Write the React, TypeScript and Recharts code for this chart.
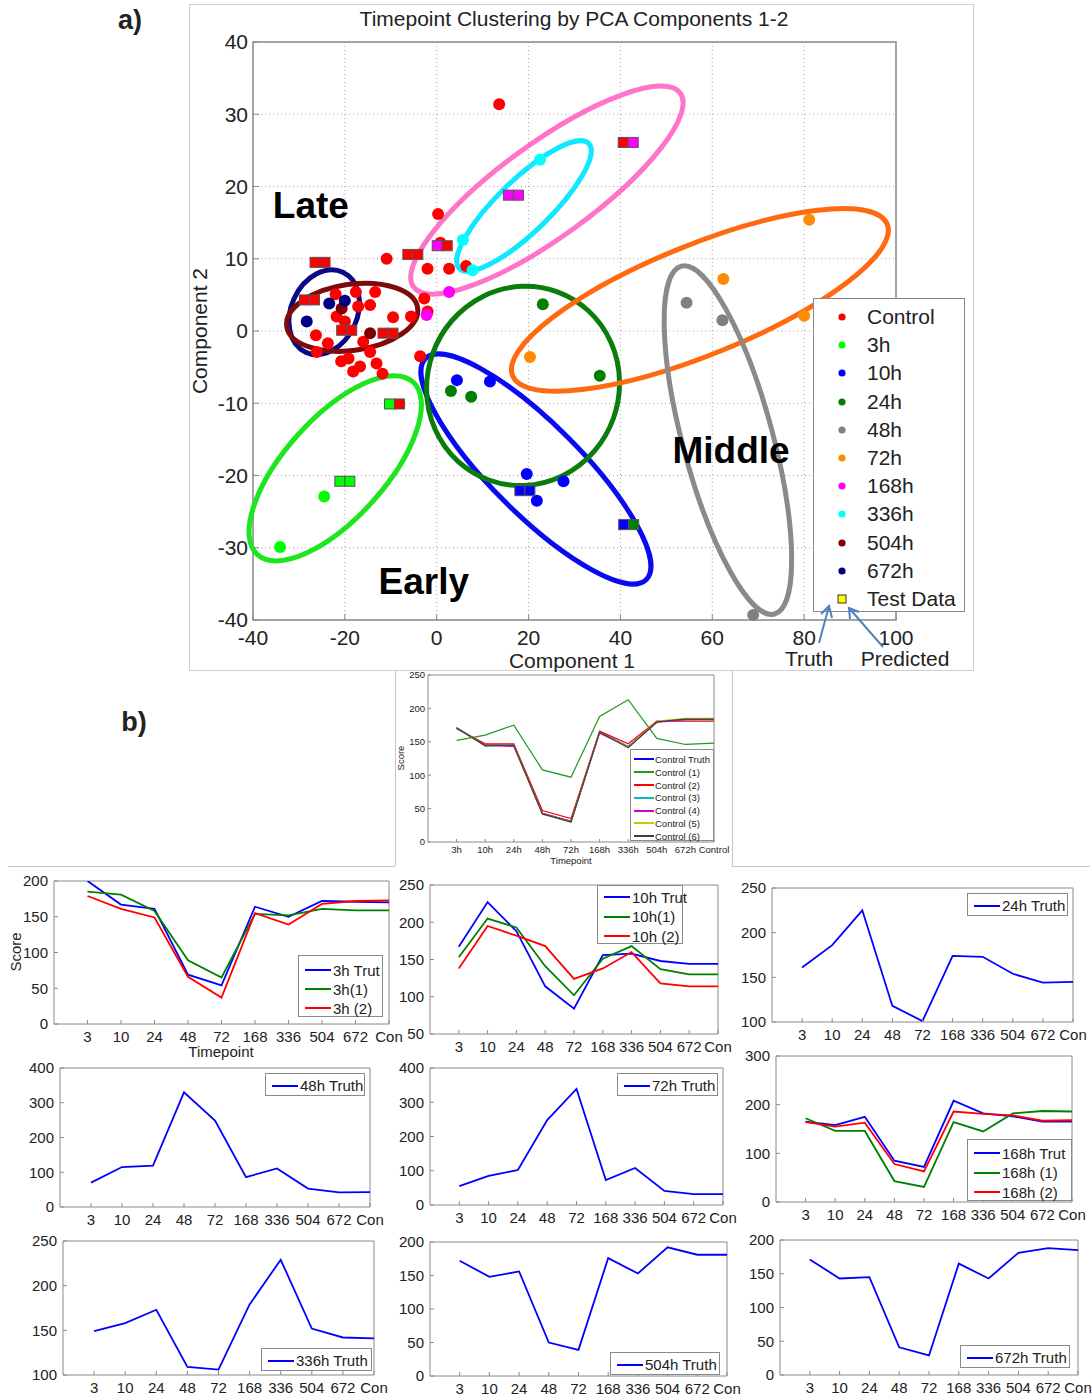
import React from 'react';
import {
  ScatterChart,
  Scatter,
  LineChart,
  Line,
  XAxis,
  YAxis,
  CartesianGrid,
  ReferenceArea,
  ReferenceDot,
  Legend,
} from 'recharts';

const FONT = '"Liberation Sans", Arial, Helvetica, sans-serif';
const INK = '#222222';
const FRAME = '#8a8a8a';

// ---------------- a) PCA scatter data ----------------
const groupNames = ['Control', '3h', '10h', '24h', '48h', '72h', '168h', '336h', '504h', '672h'];
const groupColors = ['#ff0000', '#00ff00', '#0000ff', '#008000', '#808080', '#ff8c00', '#ff00ff', '#00ffff', '#800000', '#000080'];

const controlPts = [
  { x: 13.6, y: 31.4 }, { x: 0.3, y: 16.2 }, { x: -10.9, y: 10.0 }, { x: -2.0, y: 8.6 },
  { x: 2.7, y: 8.6 }, { x: 6.4, y: 9.0 }, { x: -22.0, y: 5.1 }, { x: -17.6, y: 5.4 },
  { x: -13.4, y: 5.4 }, { x: -14.5, y: 3.6 }, { x: -17.1, y: 3.4 }, { x: -21.8, y: 2.0 },
  { x: -20.0, y: 1.3 }, { x: -9.5, y: 1.9 }, { x: -5.6, y: 2.0 }, { x: -2.7, y: 4.5 },
  { x: -2.0, y: 2.7 }, { x: -26.3, y: -0.6 }, { x: -23.7, y: -1.7 }, { x: -26.1, y: -2.9 },
  { x: -20.8, y: -4.2 }, { x: -19.2, y: -3.8 }, { x: -18.2, y: -5.6 }, { x: -16.7, y: -4.9 },
  { x: -16.0, y: -1.5 }, { x: -14.5, y: -2.9 }, { x: -13.1, y: -4.5 }, { x: -11.8, y: -5.9 },
  { x: -3.6, y: -3.5 }, { x: 0.8, y: 12.2 },
];
const h3Pts = [{ x: -24.5, y: -22.9 }, { x: -34.1, y: -29.9 }];
const h10Pts = [{ x: 4.4, y: -6.8 }, { x: 11.6, y: -7.0 }, { x: 19.6, y: -19.8 }, { x: 21.8, y: -23.5 }, { x: 27.6, y: -20.8 }];
const h24Pts = [{ x: 3.1, y: -8.3 }, { x: 7.5, y: -9.1 }, { x: 23.1, y: 3.7 }, { x: 35.5, y: -6.2 }];
const h48Pts = [{ x: 54.4, y: 3.9 }, { x: 62.2, y: 1.5 }, { x: 68.9, y: -39.3 }];
const h72Pts = [{ x: 81.1, y: 15.4 }, { x: 62.4, y: 7.2 }, { x: 80.0, y: 2.1 }, { x: 20.3, y: -3.6 }];
const h168Pts = [{ x: 2.7, y: 5.4 }, { x: -2.2, y: 2.2 }];
const h336Pts = [{ x: 22.5, y: 23.7 }, { x: 5.7, y: 12.6 }, { x: 7.8, y: 8.4 }];
const h504Pts = [{ x: -20.7, y: 3.1 }, { x: -14.5, y: -0.3 }];
const h672Pts = [{ x: -28.3, y: 1.3 }, { x: -23.4, y: 3.8 }, { x: -20.0, y: 4.2 }];
const groupPts = [controlPts, h3Pts, h10Pts, h24Pts, h48Pts, h72Pts, h168Pts, h336Pts, h504Pts, h672Pts];

// test samples: truth class (left square) and predicted class (right square)
const testX = [-25.4, -27.7, -5.2, 1.2, 16.7, 41.7, -19.6, -10.6, -9.2, -20.0, 19.2, 41.8];
const testY = [9.5, 4.3, 10.6, 11.8, 18.8, 26.1, 0.1, -0.3, -10.1, -20.8, -22.1, -26.8];
const testTruth = ['Control', 'Control', 'Control', '168h', '168h', 'Control', 'Control', 'Control', '3h', '3h', '10h', '10h'];
const testPred = ['Control', 'Control', 'Control', 'Control', '168h', '168h', 'Control', 'Control', 'Control', '3h', '10h', '24h'];

// cluster ellipses: centre in data units, semi-axes in x-axis units, angle in degrees
const ellipses = [
  { cx: 24.0, cy: 19.5, a: 35.9, b: 10.2, angle: 36, color: '#ff73c8' },
  { cx: 19.0, cy: 17.3, a: 19.6, b: 5.7, angle: 44, color: '#10e8ff' },
  { cx: 21.6, cy: -19.1, a: 34.0, b: 9.8, angle: -45, color: '#0a0af0' },
  { cx: 18.8, cy: -7.6, a: 21.8, b: 20.9, angle: 70, color: '#0b7d0b' },
  { cx: 57.3, cy: 4.3, a: 44.0, b: 12.0, angle: 22, color: '#ff6a10' },
  { cx: 63.4, cy: -15.1, a: 39.2, b: 9.8, angle: -75, color: '#8a8a8a' },
  { cx: -22.1, cy: -19.0, a: 25.3, b: 10.9, angle: 48, color: '#1ee61e' },
  { cx: -24.5, cy: 2.6, a: 9.6, b: 7.2, angle: 65, color: '#0a0a88' },
  { cx: -18.4, cy: 1.9, a: 14.4, b: 7.2, angle: 8, color: '#800a0a' },
];

const labelsA = [
  { x: -27.4, y: 17.4, text: 'Late' },
  { x: -2.8, y: -34.7, text: 'Early' },
  { x: 64.1, y: -16.5, text: 'Middle' },
];

const xTicksA = [-40, -20, 0, 20, 40, 60, 80, 100];
const yTicksA = [-40, -30, -20, -10, 0, 10, 20, 30, 40];

// ---------------- b) timepoint profiles ----------------
const hourTicks = ['3', '10', '24', '48', '72', '168', '336', '504', '672', 'Con'];
const controlTicks = ['3h', '10h', '24h', '48h', '72h', '168h', '336h', '504h', '672h', 'Control'];

const controlTruth = [171, 145, 145, 43, 31, 165, 143, 180, 184, 184];
const control1 = [152, 160, 175, 108, 97, 188, 213, 155, 146, 148];
const control2 = [170, 147, 147, 47, 35, 166, 147, 181, 181, 181];
const control3 = [171, 144, 145, 42, 30, 164, 142, 180, 183, 183];
const control4 = [170, 145, 143, 43, 31, 163, 142, 179, 183, 184];
const control5 = [171, 144, 145, 42, 30, 165, 142, 181, 185, 185];
const control6 = [171, 144, 145, 42, 30, 165, 141, 180, 184, 184];

const truth3h = [200, 167, 161, 69, 54, 164, 150, 172, 171, 170];
const pred3h1 = [185, 181, 158, 89, 65, 154, 152, 161, 159, 159];
const pred3h2 = [179, 161, 149, 66, 37, 155, 139, 168, 172, 173];

const truth10h = [167, 227, 188, 114, 84, 156, 158, 148, 144, 144];
const pred10h1 = [153, 205, 193, 141, 102, 151, 168, 137, 130, 130];
const pred10h2 = [138, 195, 182, 168, 124, 138, 160, 118, 114, 114];

const truth24h = [161, 186, 225, 118, 101, 174, 173, 154, 144, 145];
const truth48h = [70, 115, 119, 330, 249, 86, 111, 53, 42, 43];
const truth72h = [55, 85, 102, 248, 339, 73, 108, 41, 32, 32];

const truth168h = [165, 158, 175, 85, 72, 208, 182, 176, 165, 165];
const pred168h1 = [172, 146, 146, 43, 31, 164, 145, 182, 187, 186];
const pred168h2 = [164, 155, 163, 78, 63, 186, 181, 178, 167, 168];

const truth336h = [149, 158, 173, 109, 106, 179, 229, 152, 142, 141];
const truth504h = [172, 148, 156, 50, 39, 176, 153, 192, 181, 181];
const truth672h = [171, 143, 145, 41, 29, 165, 143, 181, 188, 185];

type SeriesSpec = { name: string; color: string; values: number[] };
type LegendSpec = { x: number; y: number; w: number; h: number; first: number; rowH: number; lineW: number };
type SmallSpec = {
  l: number; r: number; t: number; b: number;
  yDomain: [number, number]; yTicks: number[]; xLabels: string[];
  series: SeriesSpec[]; legend: LegendSpec;
  font: number; tick: number; yMargin: number; xMargin: number; lw: number;
};

const big = { font: 15, tick: 4, yMargin: 10, xMargin: 11, lw: 1.8 };

const specs: SmallSpec[] = [
  {
    l: 428, r: 714, t: 675, b: 842, yDomain: [0, 250], yTicks: [0, 50, 100, 150, 200, 250], xLabels: controlTicks,
    series: [
      { name: 'Control Truth', color: '#0000ff', values: controlTruth },
      { name: 'Control (1)', color: '#1f9a1f', values: control1 },
      { name: 'Control (2)', color: '#ff0000', values: control2 },
      { name: 'Control (3)', color: '#00bfbf', values: control3 },
      { name: 'Control (4)', color: '#d000d0', values: control4 },
      { name: 'Control (5)', color: '#c8c800', values: control5 },
      { name: 'Control (6)', color: '#404040', values: control6 },
    ],
    legend: { x: 630, y: 749, w: 84, h: 92, first: 9.5, rowH: 12.8, lineW: 20 },
    font: 9.5, tick: 3, yMargin: 6, xMargin: 7, lw: 1.2,
  },
  {
    l: 54, r: 389, t: 881, b: 1024, yDomain: [0, 200], yTicks: [0, 50, 100, 150, 200], xLabels: hourTicks,
    series: [
      { name: '3h Trut', color: '#0000ff', values: truth3h },
      { name: '3h(1)', color: '#008000', values: pred3h1 },
      { name: '3h (2)', color: '#ff0000', values: pred3h2 },
    ],
    legend: { x: 298, y: 955, w: 85, h: 62, first: 14, rowH: 19, lineW: 26 }, ...big,
  },
  {
    l: 430, r: 718, t: 885, b: 1034, yDomain: [50, 250], yTicks: [50, 100, 150, 200, 250], xLabels: hourTicks,
    series: [
      { name: '10h Trut', color: '#0000ff', values: truth10h },
      { name: '10h(1)', color: '#008000', values: pred10h1 },
      { name: '10h (2)', color: '#ff0000', values: pred10h2 },
    ],
    legend: { x: 597, y: 885, w: 86, h: 59, first: 11, rowH: 19.5, lineW: 26 }, ...big,
  },
  {
    l: 772, r: 1073, t: 888, b: 1022, yDomain: [100, 250], yTicks: [100, 150, 200, 250], xLabels: hourTicks,
    series: [{ name: '24h Truth', color: '#0000ff', values: truth24h }],
    legend: { x: 967, y: 893, w: 101, h: 23, first: 11.5, rowH: 19, lineW: 26 }, ...big,
  },
  {
    l: 60, r: 370, t: 1068, b: 1207, yDomain: [0, 400], yTicks: [0, 100, 200, 300, 400], xLabels: hourTicks,
    series: [{ name: '48h Truth', color: '#0000ff', values: truth48h }],
    legend: { x: 265, y: 1073, w: 100, h: 23, first: 11.5, rowH: 19, lineW: 26 }, ...big,
  },
  {
    l: 430, r: 723, t: 1068, b: 1205, yDomain: [0, 400], yTicks: [0, 100, 200, 300, 400], xLabels: hourTicks,
    series: [{ name: '72h Truth', color: '#0000ff', values: truth72h }],
    legend: { x: 617, y: 1073, w: 101, h: 23, first: 11.5, rowH: 19, lineW: 26 }, ...big,
  },
  {
    l: 776, r: 1072, t: 1056, b: 1202, yDomain: [0, 300], yTicks: [0, 100, 200, 300], xLabels: hourTicks,
    series: [
      { name: '168h Trut', color: '#0000ff', values: truth168h },
      { name: '168h (1)', color: '#008000', values: pred168h1 },
      { name: '168h (2)', color: '#ff0000', values: pred168h2 },
    ],
    legend: { x: 967, y: 1139, w: 105, h: 62, first: 13, rowH: 19.5, lineW: 26 }, ...big,
  },
  {
    l: 63, r: 374, t: 1241, b: 1375, yDomain: [100, 250], yTicks: [100, 150, 200, 250], xLabels: hourTicks,
    series: [{ name: '336h Truth', color: '#0000ff', values: truth336h }],
    legend: { x: 261, y: 1348, w: 111, h: 23, first: 11.5, rowH: 19, lineW: 26 }, ...big,
  },
  {
    l: 430, r: 727, t: 1242, b: 1376, yDomain: [0, 200], yTicks: [0, 50, 100, 150, 200], xLabels: hourTicks,
    series: [{ name: '504h Truth', color: '#0000ff', values: truth504h }],
    legend: { x: 610, y: 1352, w: 110, h: 23, first: 11.5, rowH: 19, lineW: 26 }, ...big,
  },
  {
    l: 780, r: 1078, t: 1240, b: 1375, yDomain: [0, 200], yTicks: [0, 50, 100, 150, 200], xLabels: hourTicks,
    series: [{ name: '672h Truth', color: '#0000ff', values: truth672h }],
    legend: { x: 960, y: 1345, w: 110, h: 23, first: 11.5, rowH: 19, lineW: 26 }, ...big,
  },
];

const colorOf = (name: string) => groupColors[groupNames.indexOf(name)];

const Txt = ({ x, y, size, bold, rotate, color, children }: any) => (
  <div
    style={{
      position: 'absolute', left: x, top: y,
      transform: `translate(-50%, -50%)${rotate ? ` rotate(${rotate}deg)` : ''}`,
      fontSize: size, fontWeight: bold ? 700 : 400, whiteSpace: 'nowrap',
      fontFamily: FONT, color: color || INK, lineHeight: 1,
    }}
  >
    {children}
  </div>
);

const ellipseShape = (e: any) => (p: any) => {
  const kx = Math.abs(p.width) / 2;
  const cx = p.x + p.width / 2;
  const cy = p.y + p.height / 2;
  return (
    <ellipse
      cx={cx} cy={cy} rx={e.a * kx} ry={e.b * kx}
      transform={`rotate(${-e.angle} ${cx} ${cy})`}
      fill="none" stroke={e.color} strokeWidth={5}
    />
  );
};

const dotShape = (color: string) => (p: any) => <circle cx={p.cx} cy={p.cy} r={6} fill={color} />;

const pairShape = (p: any) => (
  <g>
    <rect x={p.cx - 10} y={p.cy - 5} width={10} height={10} fill={colorOf(p.payload.truth)} stroke="#555" strokeWidth={1} />
    <rect x={p.cx} y={p.cy - 5} width={10} height={10} fill={colorOf(p.payload.pred)} stroke="#555" strokeWidth={1} />
  </g>
);

const PcaLegend = () => (
  <div style={{ width: 152, height: 314, border: '1px solid #8a8a8a', background: '#fff', boxSizing: 'border-box', position: 'relative', fontFamily: FONT, fontSize: 21, color: INK }}>
    {[...groupNames, 'Test Data'].map((g, i) => (
      <div key={g} style={{ position: 'absolute', left: 0, top: 18 + i * 28.2 - 12, height: 24, display: 'flex', alignItems: 'center', whiteSpace: 'nowrap' }}>
        <svg width={53} height={24}>
          {g === 'Test Data'
            ? <rect x={24} y={8} width={8} height={8} fill="#ffff00" stroke="#333" strokeWidth={1} />
            : <circle cx={28} cy={12} r={3.6} fill={colorOf(g)} />}
        </svg>
        <span>{g}</span>
      </div>
    ))}
  </div>
);

const PcaChart = () => {
  const L = 190, T = 5, W = 783, H = 665;
  const testPairs = testX.map((x, i) => ({ x, y: testY[i], truth: testTruth[i], pred: testPred[i] }));
  const tickStyle = { fontSize: 21, fill: INK, fontFamily: FONT };
  return (
    <div style={{ position: 'absolute', left: L, top: T, width: W, height: H, outline: '1px solid #cfcfcf' }}>
      <ScatterChart width={W} height={H} margin={{ top: 37, right: 77, bottom: 20, left: 23 }}>
        <CartesianGrid strokeDasharray="1 3" stroke="#a8a8a8" />
        <XAxis
          type="number" dataKey="x" domain={[-40, 100]} ticks={xTicksA} interval={0}
          axisLine={false} tickLine={{ stroke: FRAME }} tickSize={-6} tickMargin={16.5}
          height={30} tick={tickStyle}
        />
        <YAxis
          type="number" dataKey="y" domain={[-40, 40]} ticks={yTicksA} interval={0}
          axisLine={false} tickLine={{ stroke: FRAME }} tickSize={-6} tickMargin={11}
          width={40} tick={tickStyle}
        />
        <ReferenceArea x1={-40} x2={100} y1={-40} y2={40} fill="none" stroke={FRAME} strokeWidth={1.5} ifOverflow="visible" />
        {ellipses.map((e, i) => (
          <ReferenceArea key={'e' + i} x1={e.cx - 1} x2={e.cx + 1} y1={e.cy - 1} y2={e.cy + 1} ifOverflow="visible" shape={ellipseShape(e)} />
        ))}
        {groupNames.map((g, i) => (
          <Scatter key={g} name={g} data={groupPts[i]} fill={groupColors[i]} shape={dotShape(groupColors[i])} isAnimationActive={false} />
        ))}
        <Scatter name="Test Data" data={testPairs} fill="#ffff00" shape={pairShape} isAnimationActive={false} />
        {labelsA.map((a) => (
          <ReferenceDot
            key={a.text} x={a.x} y={a.y} r={0}
            shape={(p: any) => (
              <text x={p.cx} y={p.cy} textAnchor="middle" dominantBaseline="central" fontSize={37} fontWeight={700} fontFamily={FONT} fill="#000">
                {a.text}
              </text>
            )}
          />
        ))}
        <Legend
          layout="vertical" align="center" verticalAlign="middle"
          wrapperStyle={{ left: 813 - L, top: 298 - T, width: 152, height: 314 }}
          content={() => <PcaLegend />}
        />
      </ScatterChart>
    </div>
  );
};

const LegendBox = ({ spec }: { spec: SmallSpec }) => {
  const lg = spec.legend;
  const small = spec.font < 12;
  return (
    <div style={{ width: lg.w, height: lg.h, border: `1px solid ${FRAME}`, background: '#fff', boxSizing: 'border-box', position: 'relative', fontFamily: FONT, fontSize: spec.font, color: INK }}>
      {spec.series.map((s, i) => (
        <div key={s.name} style={{ position: 'absolute', left: small ? 3 : 6, top: lg.first + i * lg.rowH - lg.rowH / 2, height: lg.rowH, display: 'flex', alignItems: 'center', whiteSpace: 'nowrap' }}>
          <div style={{ width: lg.lineW, height: 2, background: s.color, marginRight: small ? 1 : 2 }} />
          <span>{s.name}</span>
        </div>
      ))}
    </div>
  );
};

const SmallChart = ({ spec }: { spec: SmallSpec }) => {
  const ML = 50, MT = 12, MR = 24, XH = 28;
  const left = spec.l - ML;
  const top = spec.t - MT;
  const width = spec.r - spec.l + ML + MR;
  const height = spec.b - spec.t + MT + XH;
  const rows = spec.xLabels.map((_, i) => {
    const row: any = { t: i + 1 };
    spec.series.forEach((s, j) => { row['s' + j] = s.values[i]; });
    return row;
  });
  const tickStyle = { fontSize: spec.font, fill: INK, fontFamily: FONT };
  return (
    <div style={{ position: 'absolute', left, top }}>
      <LineChart width={width} height={height} data={rows} margin={{ top: MT, right: MR, left: 0, bottom: 0 }}>
        <ReferenceArea x1={0} x2={10} y1={spec.yDomain[0]} y2={spec.yDomain[1]} fill="none" stroke={FRAME} ifOverflow="visible" />
        <XAxis
          type="number" dataKey="t" domain={[0, 10]} ticks={[1, 2, 3, 4, 5, 6, 7, 8, 9, 10]} interval={0}
          tickFormatter={(v: number) => spec.xLabels[v - 1]}
          axisLine={false} tickLine={{ stroke: FRAME }} tickSize={-spec.tick} tickMargin={spec.xMargin}
          height={XH} tick={tickStyle}
        />
        <YAxis
          type="number" domain={spec.yDomain} ticks={spec.yTicks} interval={0} allowDataOverflow
          axisLine={false} tickLine={{ stroke: FRAME }} tickSize={-spec.tick} tickMargin={spec.yMargin}
          width={ML} tick={tickStyle}
        />
        {spec.series.map((s, j) => (
          <Line key={s.name} dataKey={'s' + j} name={s.name} stroke={s.color} strokeWidth={spec.lw} dot={false} isAnimationActive={false} />
        ))}
        <Legend
          layout="vertical" align="center" verticalAlign="middle"
          wrapperStyle={{ left: spec.legend.x - left, top: spec.legend.y - top, width: spec.legend.w, height: spec.legend.h }}
          content={() => <LegendBox spec={spec} />}
        />
      </LineChart>
    </div>
  );
};

const Arrows = () => (
  <svg width={1092} height={1397} style={{ position: 'absolute', left: 0, top: 0, pointerEvents: 'none' }}>
    <g stroke="#4f81bd" strokeWidth={2} fill="none">
      <path d="M819 643 L829 606" />
      <path d="M821 614 L829 606 L832 618" />
      <path d="M883 647 L849 608" />
      <path d="M850 619 L849 608 L859 612" />
    </g>
    <text x={809} y={666} textAnchor="middle" fontSize={21} fontFamily={FONT} fill={INK}>Truth</text>
    <text x={905} y={666} textAnchor="middle" fontSize={21} fontFamily={FONT} fill={INK}>Predicted</text>
  </svg>
);

const App = () => (
  <div style={{ position: 'absolute', left: 0, top: 0, width: 1092, height: 1397, background: '#fff', fontFamily: FONT, overflow: 'hidden' }}>
    <Txt x={130} y={20} size={27} bold>a)</Txt>
    <Txt x={134} y={722} size={27} bold>b)</Txt>
    <PcaChart />
    <Txt x={574} y={18} size={21}>Timepoint Clustering by PCA Components 1-2</Txt>
    <Txt x={572} y={660} size={21}>Component 1</Txt>
    <Txt x={199} y={331} size={21} rotate={-90}>Component 2</Txt>
    <Arrows />

    <div style={{ position: 'absolute', left: 395, top: 670, width: 1, height: 196, background: '#c4c4c4' }} />
    <div style={{ position: 'absolute', left: 8, top: 866, width: 387, height: 1, background: '#c4c4c4' }} />
    <div style={{ position: 'absolute', left: 732, top: 670, width: 1, height: 196, background: '#c4c4c4' }} />
    <div style={{ position: 'absolute', left: 732, top: 866, width: 358, height: 1, background: '#c4c4c4' }} />

    {specs.map((s, i) => <SmallChart key={i} spec={s} />)}
    <Txt x={401} y={758} size={9.5} rotate={-90}>Score</Txt>
    <Txt x={571} y={861} size={9.5}>Timepoint</Txt>
    <Txt x={15} y={952} size={15} rotate={-90}>Score</Txt>
    <Txt x={221} y={1051} size={15}>Timepoint</Txt>
  </div>
);

export default App;
